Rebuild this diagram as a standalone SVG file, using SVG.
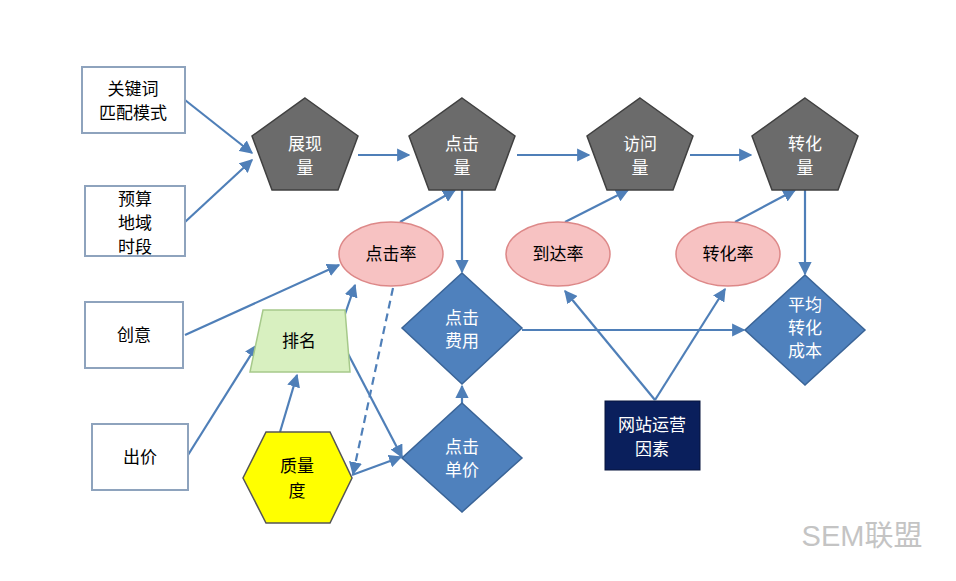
<svg xmlns="http://www.w3.org/2000/svg" width="956" height="581" viewBox="0 0 956 581">
<defs>
<marker id="ah" viewBox="0 0 10 10" refX="9" refY="5" markerWidth="6" markerHeight="6" orient="auto"><path d="M0,0 L10,5 L0,10 z" fill="#4f7fb8"/></marker>
<style>
text{font-family:"Noto Sans CJK SC","Liberation Sans",sans-serif;font-size:17px;text-anchor:middle}
.box{fill:#fff;stroke:#8ea3bd;stroke-width:2}
.pent{fill:#6b6b6b;stroke:#404040;stroke-width:1.5}
.ell{fill:#f7c2c2;stroke:#d88;stroke-width:1.5}
.dia{fill:#4f81bd;stroke:#3a6497;stroke-width:1.5}
.wt{fill:#fff}
.c line{stroke:#4f7fb8;stroke-width:2.2;marker-end:url(#ah)}
</style>
</defs>
<rect width="956" height="581" fill="#fff"/>
<g class="c">
<line x1="185" y1="100" x2="252" y2="153"/>
<line x1="185" y1="222" x2="252" y2="160"/>
<line x1="358" y1="155" x2="409" y2="155"/>
<line x1="517" y1="155" x2="589" y2="155"/>
<line x1="690" y1="155" x2="751" y2="155"/>
<line x1="400" y1="222" x2="455" y2="190"/>
<line x1="462" y1="190" x2="462" y2="272"/>
<line x1="565" y1="222" x2="628" y2="190"/>
<line x1="735" y1="222" x2="795" y2="190"/>
<line x1="805" y1="190" x2="805" y2="274"/>
<line x1="522" y1="330" x2="744" y2="330"/>
<line x1="185" y1="335" x2="339" y2="265"/>
<line x1="188" y1="455" x2="257" y2="345"/>
<line x1="280" y1="432" x2="297" y2="375"/>
<line x1="343" y1="320" x2="355" y2="285"/>
<line x1="345" y1="348" x2="402" y2="457"/>
<line x1="352" y1="475" x2="401" y2="457"/>
<line x1="393" y1="288" x2="353" y2="474" stroke-dasharray="8,5"/>
<line x1="462" y1="403" x2="462" y2="386"/>
<line x1="655" y1="400" x2="565" y2="291"/>
<line x1="655" y1="400" x2="725" y2="289"/>
</g>
<g id="n1"><rect class="box" x="82" y="67" width="103" height="66"/><text x="133" y="95">关键词</text><text x="133" y="119">匹配模式</text></g>
<g id="n2"><rect class="box" x="85" y="186" width="100" height="70"/><text x="135" y="205">预算</text><text x="135" y="229">地域</text><text x="135" y="253">时段</text></g>
<g id="n3"><rect class="box" x="85" y="302" width="98" height="66"/><text x="134" y="341">创意</text></g>
<g id="n4"><rect class="box" x="92" y="424" width="96" height="66"/><text x="140" y="463">出价</text></g>
<g id="p1"><polygon class="pent" points="305,98 358,136 338,190 272,190 252,136"/><text class="wt" x="305" y="150">展现</text><text class="wt" x="305" y="174">量</text></g>
<g id="p2"><polygon class="pent" points="462,98 515,136 495,190 429,190 409,136"/><text class="wt" x="462" y="150">点击</text><text class="wt" x="462" y="174">量</text></g>
<g id="p3"><polygon class="pent" points="640,98 693,136 673,190 607,190 587,136"/><text class="wt" x="640" y="150">访问</text><text class="wt" x="640" y="174">量</text></g>
<g id="p4"><polygon class="pent" points="805,98 858,136 838,190 772,190 752,136"/><text class="wt" x="805" y="150">转化</text><text class="wt" x="805" y="174">量</text></g>
<g id="e1"><ellipse class="ell" cx="391" cy="254" rx="52" ry="32"/><text x="391" y="260">点击率</text></g>
<g id="e2"><ellipse class="ell" cx="558" cy="254" rx="52" ry="32"/><text x="558" y="260">到达率</text></g>
<g id="e3"><ellipse class="ell" cx="728" cy="254" rx="52" ry="32"/><text x="728" y="260">转化率</text></g>
<g id="d1"><polygon class="dia" points="462,273 522,328 462,384 402,328"/><text class="wt" x="462" y="324">点击</text><text class="wt" x="462" y="347">费用</text></g>
<g id="d2"><polygon class="dia" points="462,403 522,458 462,512 402,458"/><text class="wt" x="462" y="453">点击</text><text class="wt" x="462" y="476">单价</text></g>
<g id="d3"><polygon class="dia" points="805,275 865,330 805,385 745,330"/><text class="wt" x="805" y="311">平均</text><text class="wt" x="805" y="334">转化</text><text class="wt" x="805" y="357">成本</text></g>
<g id="rank"><polygon points="263,310 345,310 350,372 250,372" fill="#d8f0c0" stroke="#a6c98a" stroke-width="1.5"/><text x="299" y="347">排名</text></g>
<g id="q"><polygon points="266,432 330,432 352,478 330,523 266,523 243,478" fill="#ffff00" stroke="#555" stroke-width="1.5"/><text x="297" y="472">质量</text><text x="297" y="497">度</text></g>
<g id="site"><rect x="605" y="401" width="95" height="69" fill="#0a1f5c" stroke="#06143d"/><text class="wt" x="652" y="431">网站运营</text><text class="wt" x="652" y="455">因素</text></g>
<text x="862" y="546" style="font-size:29px;fill:#c4c4c4;font-family:'Liberation Sans','Noto Sans CJK SC',sans-serif">SEM联盟</text>
</svg>
